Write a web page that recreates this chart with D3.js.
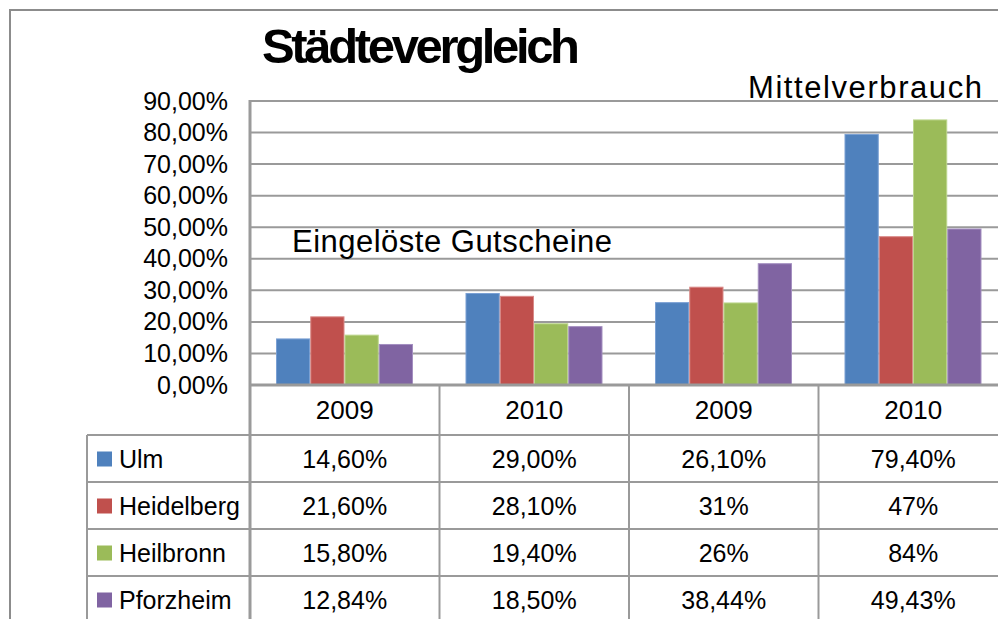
<!DOCTYPE html>
<html>
<head>
<meta charset="utf-8">
<script src="https://cdn.jsdelivr.net/npm/d3@7"></script>
<style>
  body { margin: 0; background: white; overflow: hidden; }
  text { font-family: 'Liberation Sans', Arial, sans-serif; fill: black; }
</style>
</head>
<body>
<svg id="chart" width="998" height="619"></svg>
<script>

// values (percent)
var categories = ['2009', '2010', '2009', '2010'];
var cities = ['Ulm', 'Heidelberg', 'Heilbronn', 'Pforzheim'];

var ulm = [14.6, 29.0, 26.1, 79.4];
var heidelberg = [21.6, 28.1, 31, 47];
var heilbronn = [15.8, 19.4, 26, 84];
var pforzheim = [12.84, 18.5, 38.44, 49.43];

// the data table prints them like this
var ulm_labels = ['14,60%', '29,00%', '26,10%', '79,40%'];
var heidelberg_labels = ['21,60%', '28,10%', '31%', '47%'];
var heilbronn_labels = ['15,80%', '19,40%', '26%', '84%'];
var pforzheim_labels = ['12,84%', '18,50%', '38,44%', '49,43%'];

var y_ticks = [0, 10, 20, 30, 40, 50, 60, 70, 80, 90];
var group_labels = ['Eingelöste Gutscheine', 'Mittelverbrauch'];
var title = 'Städtevergleich';

var colors = ['#4F81BD', '#C0504D', '#9BBB59', '#8064A2'];
var edges = ['#7aa0d4', '#d98a88', '#bcd68c', '#a48fc0'];

class CityChart
{
  constructor()
  {
    this.svg = d3.select('#chart');

    this.x = d3.scaleBand().domain(d3.range(categories.length)).range([250, 1008]);
    this.x_inner = d3.scaleBand().domain(cities).range([26, 163]);
    this.y = d3.scaleLinear().domain([0, 90]).range([385, 101]);

    this.grid_color = '#9a9a9a';

    this.series = [ulm, heidelberg, heilbronn, pforzheim];
    this.labels = [ulm_labels, heidelberg_labels, heilbronn_labels, pforzheim_labels];

    this.row_top = 435;
    this.row_height = 47;

    this.locale = d3.formatLocale({decimal: ',', thousands: '.', grouping: [3], currency: ['', '€']});
  }

  draw_frame()
  {
    this.svg.append('path')
        .attr('d', 'M10,619 L10,10 L998,10')
        .attr('fill', 'none')
        .attr('stroke', '#8c8c8c')
        .attr('stroke-width', 2);
  }

  draw_axis()
  {
    var fmt = this.locale.format('.2%');

    this.svg.selectAll('.grid')
        .data(y_ticks)
        .enter()
        .append('line')
        .attr('class', 'grid')
        .attr('x1', 250)
        .attr('x2', 1008)
        .attr('y1', d => this.y(d))
        .attr('y2', d => this.y(d))
        .attr('stroke', this.grid_color)
        .attr('stroke-width', 2);

    var axis = this.svg.append('g')
        .attr('transform', 'translate(250,0)')
        .call(d3.axisLeft(this.y).tickValues(y_ticks).tickSize(0).tickPadding(22).tickFormat(d => fmt(d / 100)));

    axis.select('.domain').remove();
    axis.selectAll('text')
        .style('font-size', '25px')
        .style('font-family', "'Liberation Sans', Arial, sans-serif")
        .attr('fill', 'black');

    this.svg.append('line')
        .attr('x1', 250).attr('x2', 250)
        .attr('y1', this.y(90) - 1).attr('y2', 619)
        .attr('stroke', this.grid_color)
        .attr('stroke-width', 3);
  }

  draw_bars()
  {
    var groups = this.svg.selectAll('.series')
        .data(this.series)
        .enter()
        .append('g')
        .attr('class', 'series');

    groups.selectAll('rect')
        .data((d, i) => d.map((v, j) => ({value: v, cat: j, city: cities[i], idx: i})))
        .enter()
        .append('rect')
        .attr('x', d => this.x(d.cat) + this.x_inner(d.city) + 0.5)
        .attr('y', d => this.y(d.value))
        .attr('width', this.x_inner.bandwidth() - 1)
        .attr('height', d => this.y(0) - this.y(d.value))
        .attr('fill', d => colors[d.idx])
        .attr('stroke', d => edges[d.idx])
        .attr('stroke-width', 1);
  }

  draw_table()
  {
    var bottom = 619;
    var right = 1008;

    // horizontal rules
    var rows = d3.range(cities.length).map(i => this.row_top + i * this.row_height);
    this.svg.append('line')
        .attr('x1', 250).attr('x2', right)
        .attr('y1', this.y(0)).attr('y2', this.y(0))
        .attr('stroke', this.grid_color).attr('stroke-width', 3);

    this.svg.selectAll('.hrule')
        .data(rows)
        .enter()
        .append('line')
        .attr('class', 'hrule')
        .attr('x1', 87).attr('x2', right)
        .attr('y1', d => d).attr('y2', d => d)
        .attr('stroke', this.grid_color)
        .attr('stroke-width', 2);

    // vertical rules
    var cols = d3.range(1, categories.length + 1).map(i => this.x(0) + i * this.x.bandwidth());
    this.svg.selectAll('.vrule')
        .data(cols)
        .enter()
        .append('line')
        .attr('class', 'vrule')
        .attr('x1', d => d).attr('x2', d => d)
        .attr('y1', this.y(0)).attr('y2', bottom)
        .attr('stroke', this.grid_color)
        .attr('stroke-width', 2);

    this.svg.append('line')
        .attr('x1', 87).attr('x2', 87)
        .attr('y1', this.row_top).attr('y2', bottom)
        .attr('stroke', this.grid_color)
        .attr('stroke-width', 2);

    // header
    this.svg.selectAll('.cat')
        .data(categories)
        .enter()
        .append('text')
        .attr('class', 'cat')
        .attr('x', (d, i) => this.x(i) + this.x.bandwidth() / 2)
        .attr('y', (this.y(0) + this.row_top) / 2)
        .attr('dy', '0.36em')
        .attr('text-anchor', 'middle')
        .style('font-size', '26px')
        .text(d => d);

    // legend column
    var legend = this.svg.selectAll('.legend')
        .data(cities)
        .enter()
        .append('g')
        .attr('class', 'legend')
        .attr('transform', (d, i) => 'translate(0,' + (this.row_top + (i + 0.5) * this.row_height) + ')');

    legend.append('rect')
        .attr('x', 97).attr('y', -7)
        .attr('width', 15).attr('height', 15)
        .attr('fill', (d, i) => colors[i]);

    legend.append('text')
        .attr('x', 119)
        .attr('dy', '0.36em')
        .style('font-size', '25px')
        .text(d => d);

    // values
    var cells = [];
    this.labels.forEach((row, i) => row.forEach((lab, j) => cells.push({row: i, col: j, text: lab})));

    this.svg.selectAll('.cell')
        .data(cells)
        .enter()
        .append('text')
        .attr('class', 'cell')
        .attr('x', d => this.x(d.col) + this.x.bandwidth() / 2)
        .attr('y', d => this.row_top + (d.row + 0.5) * this.row_height)
        .attr('dy', '0.36em')
        .attr('text-anchor', 'middle')
        .style('font-size', '25px')
        .text(d => d.text);
  }

  draw_titles()
  {
    this.svg.append('text')
        .attr('x', 262)
        .attr('y', 63)
        .attr('textLength', 318)
        .attr('lengthAdjust', 'spacing')
        .style('font-size', '49px')
        .style('font-weight', 'bold')
        .text(title);

    this.svg.append('text')
        .attr('x', this.x(0) + 42)
        .attr('y', this.y(42))
        .attr('textLength', 320)
        .attr('lengthAdjust', 'spacing')
        .style('font-size', '31px')
        .text(group_labels[0]);

    this.svg.append('text')
        .attr('x', this.x(2) + 119)
        .attr('y', this.y(91))
        .attr('textLength', 234)
        .attr('lengthAdjust', 'spacing')
        .style('font-size', '31px')
        .text(group_labels[1]);
  }

  draw()
  {
    this.draw_frame();
    this.draw_axis();
    this.draw_bars();
    this.draw_table();
    this.draw_titles();
  }
}

var chart = new CityChart();
chart.draw();

</script>
</body>
</html>
